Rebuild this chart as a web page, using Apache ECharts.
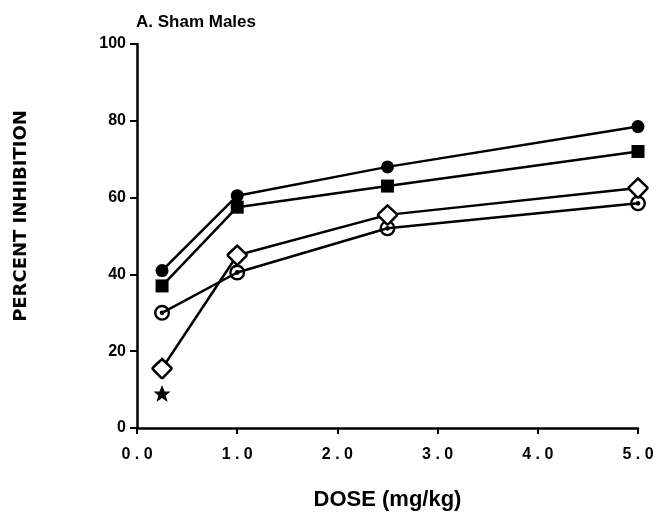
<!DOCTYPE html>
<html>
<head>
<meta charset="utf-8">
<script src="https://cdn.jsdelivr.net/npm/echarts@6/dist/echarts.min.js"></script>
<style>
    html, body { margin: 0; padding: 0; background: #fff; }
    #chart { width: 660px; height: 517px; }
</style>
</head>
<body>
<div id="chart"></div>
<script>
// 数据
var doses = [0.25, 1.0, 2.5, 5.0];
var filledCircle = [41, 60.5, 68, 78.5];
var filledSquare = [37, 57.5, 63, 72];
var openDiamond = [15.5, 45, 55.5, 62.5];
var bullseye = [30, 40.5, 52, 58.5];
var starPoint = [0.25, 9];
var xTicks = [0, 1, 2, 3, 4, 5];
var yTicks = [0, 20, 40, 60, 80, 100];

var font = 'Liberation Sans';

// 圆环 + 中心点
var bullseyePath = 'path://M0,-10 A10,10 0 1,1 0,10 A10,10 0 1,1 0,-10 Z ' +
    'M0,-7 A7,7 0 1,0 0,7 A7,7 0 1,0 0,-7 Z ' +
    'M0,-3 A3,3 0 1,1 0,3 A3,3 0 1,1 0,-3 Z';
var starPath = 'path://M0,-10 L2.9,-3.1 L9.5,-3.1 L4.2,1.2 L6.2,8.1 L0,4 L-6.2,8.1 L-4.2,1.2 L-9.5,-3.1 L-2.9,-3.1 Z';
// 圆角菱形
var diamondPath = 'path://M0,-10 L9,-1 Q10,0 9,1 L1,9.5 Q0,10.5 -1,9.5 L-9,1 Q-10,0 -9,-1 Z';

function pairs(ys) {
    return doses.map(function (d, i) { return [d, ys[i]]; });
}

function lineSeries(name, ys, symbol, size, fill, z) {
    return {
        name: name,
        type: 'line',
        data: pairs(ys),
        symbol: symbol,
        symbolSize: size,
        z: z,
        lineStyle: { color: '#000', width: 2.5 },
        itemStyle: { color: fill, borderColor: '#000', borderWidth: fill === '#fff' ? 2.5 : 0, opacity: 1 },
        emphasis: { disabled: true }
    };
}

var chart = echarts.init(document.getElementById('chart'));

var axisText = { color: '#000', fontFamily: font, fontWeight: 'bold', fontSize: 16 };

chart.setOption({
    animation: false,
    title: {
        text: 'A. Sham Males',
        left: 131,
        top: 9,
        textStyle: { color: '#000', fontFamily: font, fontWeight: 'bold', fontSize: 17 }
    },
    grid: { left: 137, right: 22, top: 44, bottom: 89 },
    xAxis: {
        type: 'value',
        min: xTicks[0],
        max: xTicks[xTicks.length - 1],
        interval: 1,
        name: 'DOSE (mg/kg)',
        nameLocation: 'middle',
        nameGap: 61,
        nameTextStyle: { color: '#000', fontFamily: font, fontWeight: 'bold', fontSize: 22 },
        axisLine: { lineStyle: { color: '#000', width: 2.5 } },
        axisTick: { show: true, length: 6, lineStyle: { color: '#000', width: 2 } },
        axisLabel: Object.assign({
            margin: 19,
            formatter: function (v) { return v.toFixed(1).replace('.', ' . '); }
        }, axisText),
        splitLine: { show: false }
    },
    yAxis: {
        type: 'value',
        min: yTicks[0],
        max: yTicks[yTicks.length - 1],
        interval: 20,
        name: 'PERCENT INHIBITION',
        nameLocation: 'middle',
        nameRotate: 90,
        nameGap: 107,
        nameTextStyle: {
            color: '#000', fontFamily: 'DejaVu Sans', fontWeight: 'bold', fontSize: 18,
            padding: [0, 0, 0, 40]
        },
        axisLine: { lineStyle: { color: '#000', width: 2.5 } },
        axisTick: { show: true, length: 7, lineStyle: { color: '#000', width: 2 } },
        axisLabel: Object.assign({ margin: 11 }, axisText),
        splitLine: { show: false }
    },
    series: [
        lineSeries('bullseye', bullseye, bullseyePath, 16, '#000', 2),
        lineSeries('diamond', openDiamond, diamondPath, 19, '#fff', 3),
        lineSeries('square', filledSquare, 'rect', 13, '#000', 4),
        lineSeries('circle', filledCircle, 'circle', 13, '#000', 5),
        {
            name: 'star',
            type: 'scatter',
            data: [starPoint],
            symbol: starPath,
            symbolSize: 17,
            itemStyle: { color: '#000', opacity: 1 },
            emphasis: { disabled: true }
        }
    ]
});
</script>
</body>
</html>
